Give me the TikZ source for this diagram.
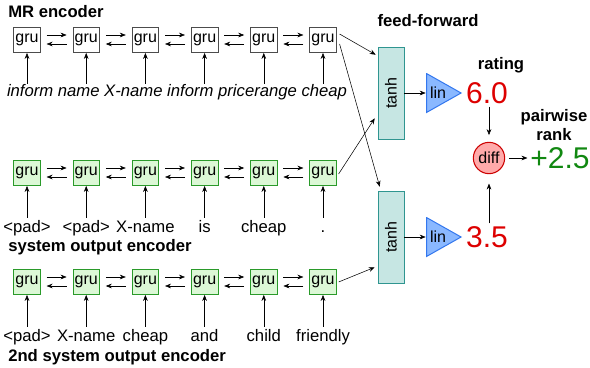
\documentclass[tikz,border=0pt]{standalone}
\usepackage{fontspec}
\usepackage{graphicx}
\setmainfont{Liberation Sans}
\usetikzlibrary{arrows.meta,calc}

\definecolor{grugreen}{HTML}{2A9A2A}
\definecolor{grufill}{HTML}{DCF8D6}
\definecolor{tanhline}{HTML}{2F9590}
\definecolor{tanhfill}{HTML}{C6E6E3}
\definecolor{linline}{HTML}{3377EE}
\definecolor{linfill}{HTML}{8AB8FF}
\definecolor{diffline}{HTML}{CC0000}
\definecolor{difffill}{HTML}{FFAAAA}
\definecolor{scorered}{HTML}{DD0000}
\definecolor{rankgreen}{HTML}{118811}

\tikzset{
  unit/.style={font=\fontsize{12}{14}\selectfont},
  mrgru/.style={unit, draw=black!70, fill=white, minimum width=20pt, minimum height=19pt, inner sep=0pt},
  sysgru/.style={mrgru, draw=grugreen, fill=grufill},
  word/.style={font=\fontsize{12.5}{14}\selectfont, text height=9pt, text depth=3pt, inner sep=1.5pt},
  title/.style={font=\bfseries\fontsize{12.5}{14}\selectfont, inner sep=0pt},
  tanhbox/.style={unit, draw=tanhline, fill=tanhfill, minimum width=19.5pt, minimum height=69pt, inner sep=0pt},
  linbox/.style={unit, minimum width=27pt, minimum height=30pt, text width=21pt, align=left,
    inner xsep=3pt, inner ysep=0pt,
    path picture={\filldraw[draw=linline, fill=linfill, line width=0.75pt]
      ($(path picture bounding box.north west)+(0.4pt,-0.4pt)$)
      -- ($(path picture bounding box.east)+(-0.7pt,0pt)$)
      -- ($(path picture bounding box.south west)+(0.4pt,0.4pt)$) -- cycle;}},
  diffbox/.style={unit, circle, draw=diffline, fill=difffill, minimum size=23.5pt, inner sep=0pt, line width=0.8pt},
  score/.style={font=\fontsize{22.5}{24}\selectfont, text=scorered, inner sep=2pt},
  fwd/.style={->},
}

\begin{document}
\begin{tikzpicture}[x=0.75pt, y=-0.75pt, >={Stealth[length=4.5pt, width=3.5pt]}]
\useasboundingbox (0,0) rectangle (590,368);

% MR encoder
\node[title, anchor=west] (mrlabel) at (8,12) {MR encoder};
\foreach \i in {1,...,6}
  \node[mrgru] (m\i) at ({27+59.2*(\i-1)},40) {gru};
\node[word, anchor=base, inner sep=0pt] (mrwords) at (177,96) {\itshape inform name X-name inform pricerange cheap};
\foreach \i in {1,...,6}
  \draw[fwd] (m\i |- mrwords.north) -- (m\i.south);

% system output encoder
\foreach \i in {1,...,6}
  \node[sysgru] (s\i) at ({27+59.2*(\i-1)},173) {gru};
\foreach \w [count=\i] in {<pad>,<pad>,X-name,is,cheap,.}
  \node[word, anchor=base] (sw\i) at ({27+59.2*(\i-1)},232) {\w};
\node[title, anchor=west] (syslabel) at (8,247) {system output encoder};

% 2nd system output encoder
\foreach \i in {1,...,6}
  \node[sysgru] (n\i) at ({27+59.2*(\i-1)},282) {gru};
\foreach \w [count=\i] in {<pad>,X-name,cheap,and,child,friendly}
  \node[word, anchor=base] (nw\i) at ({27+59.2*(\i-1)},341) {\w};
\node[title, anchor=west] (sndlabel) at (8,357) {2nd system output encoder};

% word inputs and recurrent links
\foreach \i in {1,...,6} {
  \draw[fwd] (sw\i.north) -- (s\i.south);
  \draw[fwd] (nw\i.north) -- (n\i.south);
}
\foreach \r in {m,s,n}
  \foreach \i [count=\j from 2] in {1,...,5} {
    \draw[fwd] ($(\r\i.east)+(6,-5)$) -- ($(\r\j.west)+(-6,-5)$);
    \draw[fwd] ($(\r\j.west)+(-6,4)$) -- ($(\r\i.east)+(6,4)$);
  }

% feed-forward
\node[title] (fflabel) at (428,21) {feed-forward};
\node[tanhbox] (t1) at (391,93) {\rotatebox{90}{tanh}};
\node[tanhbox] (t2) at (391,237) {\rotatebox{90}{tanh}};
\draw[fwd] ($(m6.east)+(3,-6)$) -- ($(t1.north west)+(-2,8)$);
\draw[fwd] ($(m6.east)+(3,4)$) -- ($(t2.north west)+(2,-4)$);
\draw[fwd] ($(s6.east)+(2,1)$) -- ($(t1.south west)+(-3,-21)$);
\draw[fwd] ($(n6.east)+(2,0)$) -- ($(t2.south west)+(-3,-16)$);

\node[linbox] (l1) at (444,93) {lin};
\node[linbox] (l2) at (444,237) {lin};
\draw[fwd] (t1) -- (l1);
\draw[fwd] (t2) -- (l2);

% rating and pairwise rank
\node[title] (ratinglabel) at (501,65) {rating};
\node[score] (r1) at (487,93) {6.0};
\node[score] (r2) at (487,237) {3.5};
\node[diffbox] (diff) at (489,158) {diff};
\draw[fwd, shorten >=5pt] (r1.south -| diff) -- (diff.north);
\draw[fwd, shorten >=7pt] (r2.north -| diff) -- (diff.south);
\node[title, align=center] (ranklabel) at (554,125) {pairwise\\rank};
\node[score, text=rankgreen] (rank) at (560,158) {+2.5};
\draw[fwd, shorten <=3pt] (diff) -- (rank);
\end{tikzpicture}
\end{document}
